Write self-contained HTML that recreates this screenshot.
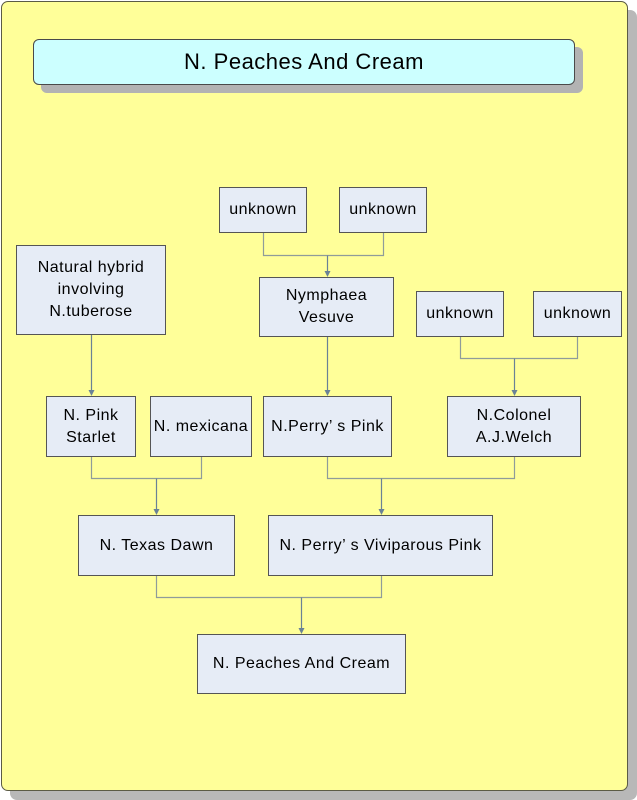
<!DOCTYPE html>
<html>
<head>
<meta charset="utf-8">
<style>
  html, body { margin:0; padding:0; background:#ffffff; }
  body { width:637px; height:800px; position:relative; overflow:hidden;
         font-family:"Liberation Sans","Noto Sans CJK JP",sans-serif; }
  .panel { position:absolute; left:1px; top:1px; width:627px; height:790px; box-sizing:border-box;
           background:#ffff99; border:1px solid #5b5b45; border-radius:7px;
           box-shadow:9px 9px 0 #b8b8b8; }
  .title { position:absolute; left:33px; top:39px; width:542px; height:46px; box-sizing:border-box;
           background:#ccffff; border:1px solid #4a4a4a; border-radius:6px;
           box-shadow:8px 8px 0 #b3b3b3;
           display:flex; align-items:center; justify-content:center;
           font-size:22px; letter-spacing:0.5px; color:#000; }
  .n { position:absolute; box-sizing:border-box; background:#e6ecf6; border:1px solid #555555;
       display:flex; align-items:center; justify-content:center; text-align:center;
       font-size:16px; line-height:22px; letter-spacing:0.5px; color:#000; }
  svg { position:absolute; left:0; top:0; }
</style>
</head>
<body>
<div class="panel"></div>
<div class="title">N. Peaches And Cream</div>

<svg width="637" height="800" viewBox="0 0 637 800">
  <g stroke="#8f9c9a" stroke-width="1.2" fill="none">
    <polyline points="263.5,233 263.5,255.5 383.5,255.5 383.5,233"/>
    <polyline points="460.5,337 460.5,358.5 577.5,358.5 577.5,337"/>
    <polyline points="91.5,457 91.5,478.5 201.5,478.5 201.5,457"/>
    <polyline points="327.5,457 327.5,478.5 514.5,478.5 514.5,457"/>
    <polyline points="156.5,576 156.5,597.5 381.5,597.5 381.5,576"/>
  </g>
  <g stroke="#6a8296" stroke-width="1.2">
    <line x1="327.5" y1="255.5" x2="327.5" y2="273"/>
    <line x1="91.5" y1="335" x2="91.5" y2="392"/>
    <line x1="327.5" y1="337" x2="327.5" y2="392"/>
    <line x1="514.5" y1="358.5" x2="514.5" y2="392"/>
    <line x1="156.5" y1="478.5" x2="156.5" y2="511"/>
    <line x1="381.5" y1="478.5" x2="381.5" y2="511"/>
    <line x1="301.5" y1="597.5" x2="301.5" y2="630"/>
  </g>
  <g fill="#6a8296">
    <polygon points="324.5,271 330.5,271 327.5,277"/>
    <polygon points="88.5,390 94.5,390 91.5,396"/>
    <polygon points="324.5,390 330.5,390 327.5,396"/>
    <polygon points="511.5,390 517.5,390 514.5,396"/>
    <polygon points="153.5,509 159.5,509 156.5,515"/>
    <polygon points="378.5,509 384.5,509 381.5,515"/>
    <polygon points="298.5,628 304.5,628 301.5,634"/>
  </g>
</svg>

<div class="n" style="left:219px;top:187px;width:88px;height:46px;">unknown</div>
<div class="n" style="left:339px;top:187px;width:88px;height:46px;">unknown</div>
<div class="n" style="left:16px;top:245px;width:150px;height:90px;">Natural hybrid<br>involving<br>N.tuberose</div>
<div class="n" style="left:259px;top:277px;width:135px;height:60px;">Nymphaea<br>Vesuve</div>
<div class="n" style="left:416px;top:291px;width:88px;height:46px;">unknown</div>
<div class="n" style="left:533px;top:291px;width:89px;height:46px;">unknown</div>
<div class="n" style="left:46px;top:396px;width:90px;height:61px;">N. Pink<br>Starlet</div>
<div class="n" style="left:150px;top:396px;width:102px;height:61px;">N. mexicana</div>
<div class="n" style="left:263px;top:396px;width:129px;height:61px;">N.Perry’ s Pink</div>
<div class="n" style="left:447px;top:396px;width:134px;height:61px;">N.Colonel<br>A.J.Welch</div>
<div class="n" style="left:78px;top:515px;width:157px;height:61px;">N. Texas Dawn</div>
<div class="n" style="left:268px;top:515px;width:225px;height:61px;">N. Perry’ s Viviparous Pink</div>
<div class="n" style="left:197px;top:634px;width:209px;height:60px;">N. Peaches And Cream</div>
</body>
</html>
